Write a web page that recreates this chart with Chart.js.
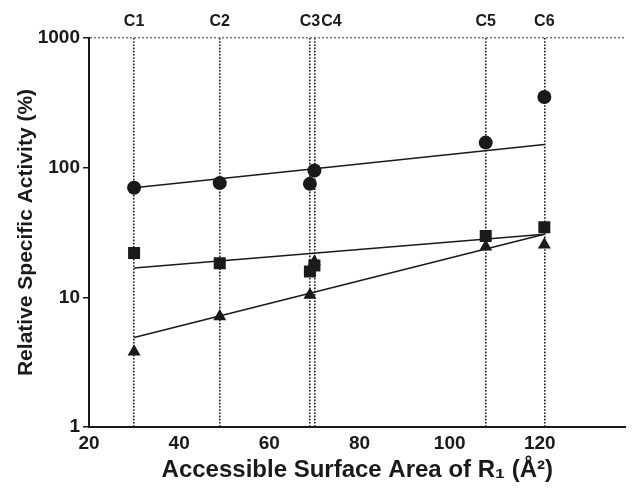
<!DOCTYPE html>
<html>
<head>
<meta charset="utf-8">
<script src="https://cdn.jsdelivr.net/npm/chart.js@4/dist/chart.umd.min.js"></script>
<style>
    html, body { margin: 0; padding: 0; background: #fff; overflow: hidden; }
</style>
</head>
<body>
<canvas id="graficaActividad" width="634" height="491"></canvas>
<script>
// Compuestos y área accesible de R1 (Å²)
const compuestos = ["C1", "C2", "C3", "C4", "C5", "C6"];
const areaR1 = [30, 49, 69, 70, 108, 121];

// Actividad específica relativa (%), una serie por símbolo
const actCirculos = [70, 76, 75, 95, 156, 351];
const actCuadros = [22, 18.3, 15.8, 17.6, 29.7, 34.7];
const actTriangulos = [3.8, 7.1, 10.4, 18.8, 24.6, 25.4];

// Extremos de las rectas de ajuste
const ajusteX = [30, 121];
const ajusteCirculos = [70, 151];
const ajusteCuadros = [16.8, 30.6];
const ajusteTriangulos = [4.9, 30.6];

// Marcas de los ejes
const ticksX = [20, 40, 60, 80, 100, 120];
const ticksY = [1, 10, 100, 1000];

const NEGRO = "#1a1a1a";
const FUENTE = "'Liberation Sans', Arial, Helvetica, sans-serif";

const puntos = (xs, ys) => xs.map((x, i) => ({ x: x, y: ys[i] }));

// Etiquetas C1..C6 encima de las líneas punteadas
const etiquetasC = {
    id: "etiquetasC",
    afterDraw(chart) {
        const escala = chart.scales.xTop;
        const c = chart.ctx;
        c.save();
        c.font = "bold 16px " + FUENTE;
        c.fillStyle = NEGRO;
        c.textBaseline = "middle";
        c.textAlign = "left";
        let finAnterior = -Infinity;
        compuestos.forEach((nombre, i) => {
            const ancho = c.measureText(nombre).width;
            let izq = escala.getPixelForValue(areaR1[i]) - ancho / 2;
            if (izq < finAnterior + 1) izq = finAnterior + 1; // C3/C4 casi juntos
            c.fillText(nombre, izq, chart.chartArea.top - 16);
            finAnterior = izq + ancho;
        });
        c.restore();
    }
};

const marcador = (datos, estilo, radio) => ({
    data: datos,
    pointStyle: estilo,
    pointRadius: radio,
    pointHoverRadius: radio,
    backgroundColor: NEGRO,
    borderColor: NEGRO,
    borderWidth: 0,
    showLine: false
});

const recta = (datos) => ({
    data: datos,
    showLine: true,
    borderColor: NEGRO,
    borderWidth: 1.5,
    pointRadius: 0,
    fill: false
});

// El eje X llega casi hasta el borde derecho (la figura original está recortada)
const sinMargenLateral = s => {
    s.paddingLeft = 0;
    s.paddingRight = 0;
};

const ctx = document.getElementById("graficaActividad").getContext("2d");

new Chart(ctx, {
    type: "scatter",
    data: {
        datasets: [
            marcador(puntos(areaR1, actCirculos), "circle", 7),
            marcador(puntos(areaR1, actCuadros), "rect", 8.5),
            marcador(puntos(areaR1, actTriangulos), "triangle", 7.5),
            recta(puntos(ajusteX, ajusteCirculos)),
            recta(puntos(ajusteX, ajusteCuadros)),
            recta(puntos(ajusteX, ajusteTriangulos))
        ]
    },
    options: {
        responsive: false,
        animation: false,
        devicePixelRatio: 1,
        layout: { padding: 0 },
        plugins: {
            legend: { display: false },
            tooltip: { enabled: false }
        },
        scales: {
            x: {
                type: "linear",
                position: "bottom",
                min: 20,
                max: 139,
                afterBuildTicks: s => { s.ticks = ticksX.map(v => ({ value: v })); },
                afterFit: s => { s.height = 64; sinMargenLateral(s); },
                ticks: {
                    color: NEGRO,
                    padding: 5,
                    maxRotation: 0,
                    font: { family: FUENTE, size: 19, weight: "bold" }
                },
                grid: { drawOnChartArea: false, drawTicks: false },
                border: { color: NEGRO, width: 2 },
                title: {
                    display: true,
                    text: "Accessible Surface Area of R₁ (Å²)",
                    color: NEGRO,
                    font: { family: FUENTE, size: 24, weight: "bold" },
                    padding: { top: 0, bottom: 6 }
                }
            },
            xTop: {
                type: "linear",
                position: "top",
                min: 20,
                max: 139,
                afterBuildTicks: s => { s.ticks = areaR1.map(v => ({ value: v })); },
                afterFit: s => { s.height = 38; sinMargenLateral(s); },
                ticks: { display: false },
                grid: { color: NEGRO, lineWidth: 1.6, drawTicks: false },
                border: { display: false, dash: [1.6, 1.6] }
            },
            y: {
                type: "logarithmic",
                position: "left",
                min: 1,
                max: 1000,
                afterBuildTicks: s => { s.ticks = ticksY.map(v => ({ value: v })); },
                afterFit: s => { s.width = 89; },
                ticks: {
                    color: NEGRO,
                    padding: 3,
                    font: { family: FUENTE, size: 19, weight: "bold" },
                    callback: v => String(v)
                },
                grid: {
                    color: c => (c.tick && c.tick.value === 1000) ? "#777" : "rgba(0,0,0,0)",
                    lineWidth: 1.5,
                    tickColor: NEGRO,
                    tickLength: 6,
                    tickWidth: 1.5
                },
                border: { color: NEGRO, width: 2, dash: [2, 2] },
                title: {
                    display: true,
                    text: "Relative Specific Activity (%)",
                    color: NEGRO,
                    font: { family: FUENTE, size: 21, weight: "bold" },
                    padding: { top: 14, bottom: 0 }
                }
            }
        }
    },
    plugins: [etiquetasC]
});
</script>
</body>
</html>
